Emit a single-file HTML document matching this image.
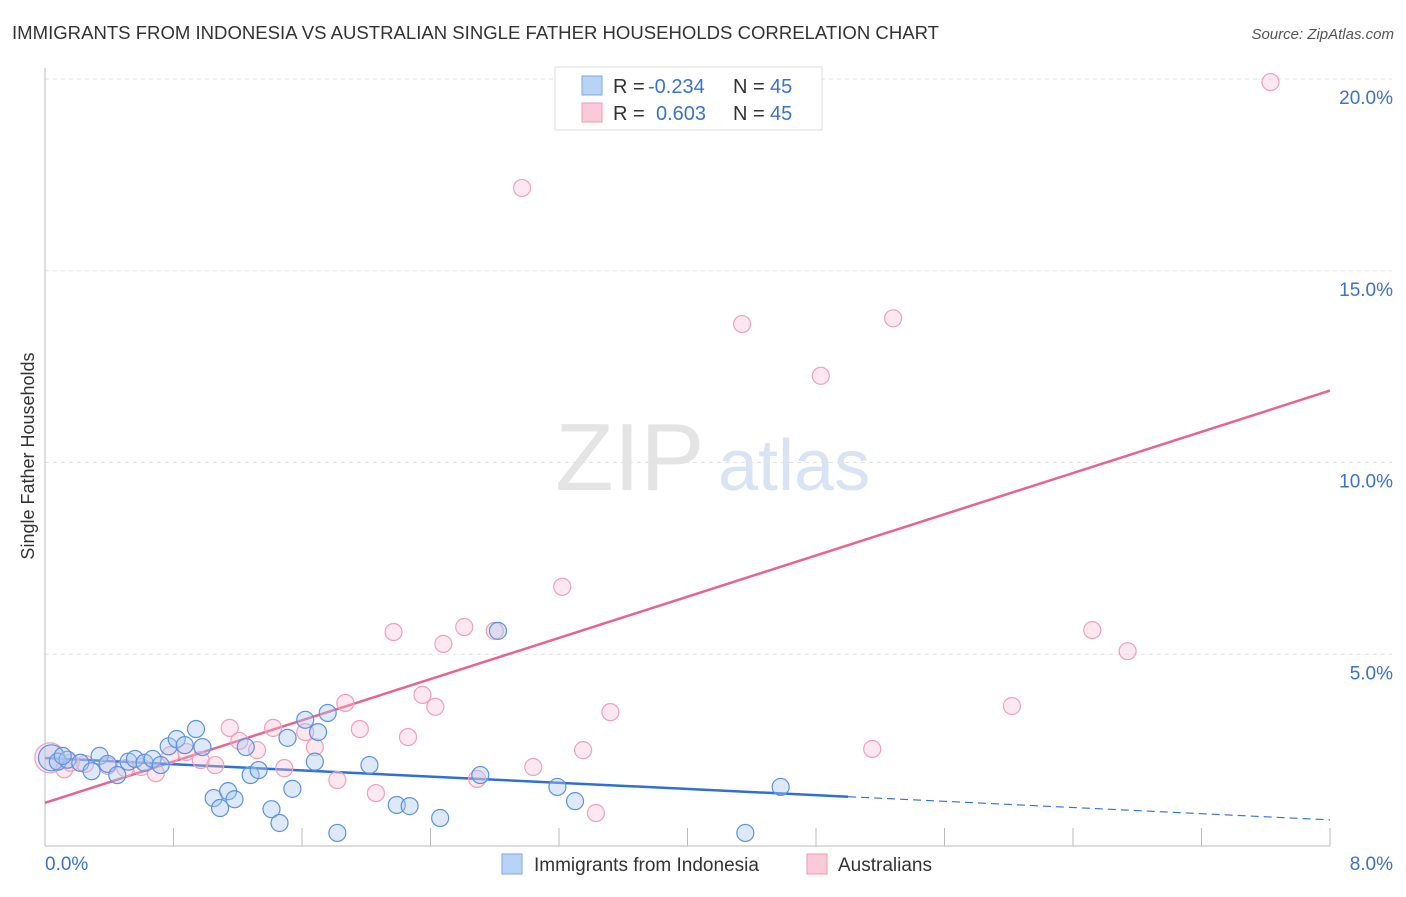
<!DOCTYPE html>
<html><head><meta charset="utf-8"><style>
body{margin:0;background:#fff;font-family:"Liberation Sans",sans-serif}
svg text{font-family:"Liberation Sans",sans-serif}
</style></head><body>
<svg id="chart" width="1406" height="892" xmlns="http://www.w3.org/2000/svg">
<text x="12" y="39" font-size="18" fill="#333" textLength="927" lengthAdjust="spacingAndGlyphs">IMMIGRANTS FROM INDONESIA VS AUSTRALIAN SINGLE FATHER HOUSEHOLDS CORRELATION CHART</text>
<text x="1394" y="39" font-size="15" fill="#555" text-anchor="end" font-style="italic">Source: ZipAtlas.com</text>
<text x="34" y="456" font-size="18" fill="#333" text-anchor="middle" transform="rotate(-90 34 456)">Single Father Households</text>
<g><text x="555" y="490" font-size="96" fill="#e4e4e4" font-family="Liberation Serif">ZIP</text><text x="718" y="490" font-size="72" fill="#d8e4f4">atlas</text></g>
<g id="grid"></g><g id="axes"></g><g id="lines"></g><g id="pts"></g>
<g>
<rect x="555" y="67" width="267" height="63" fill="#fff" stroke="#ddd"/>
<rect x="582" y="76" width="20" height="19" fill="#b8d3f5" stroke="#7aa8e8"/>
<rect x="582" y="103" width="20" height="19" fill="#fbcad8" stroke="#f09ab4"/>
<text x="613" y="93" font-size="20" fill="#333">R =</text>
<text x="648" y="93" font-size="20" fill="#3a72d0">-0.234</text>
<text x="733" y="93" font-size="20" fill="#333">N =</text>
<text x="770" y="93" font-size="20" fill="#3a72d0">45</text>
<text x="613" y="120" font-size="20" fill="#333">R =</text>
<text x="656" y="120" font-size="20" fill="#3a72d0">0.603</text>
<text x="733" y="120" font-size="20" fill="#333">N =</text>
<text x="770" y="120" font-size="20" fill="#3a72d0">45</text>
</g>
<g>
<rect x="502" y="854" width="20" height="20" fill="#b8d3f5" stroke="#7aa8e8"/>
<text x="534" y="871" font-size="19" fill="#333">Immigrants from Indonesia</text>
<rect x="807" y="854" width="20" height="20" fill="#fbcad8" stroke="#f09ab4"/>
<text x="838" y="871" font-size="19" fill="#333">Australians</text>
</g>
</svg>
<script>
const blueX=[0.04,0.08,0.14,0.22,0.29,0.34,0.39,0.45,0.52,0.56,0.62,0.67,0.72,0.77,0.82,0.87,0.94,0.98,1.05,1.09,1.14,1.18,1.25,1.28,1.33,1.41,1.46,1.51,1.54,1.62,1.68,1.70,1.76,1.82,2.02,2.19,2.27,2.46,2.71,2.82,3.19,3.30,4.36,4.58,0.11];
const blueY=[2.3,2.2,2.25,2.17,1.95,2.35,2.14,1.85,2.2,2.27,2.17,2.27,2.11,2.6,2.79,2.63,3.05,2.58,1.25,0.99,1.43,1.22,2.58,1.85,1.98,0.96,0.6,2.82,1.49,3.29,2.2,2.97,3.47,0.34,2.11,1.07,1.04,0.73,1.85,5.61,1.54,1.17,0.34,1.54,2.35];
const pinkX=[0.03,0.12,0.16,0.25,0.39,0.50,0.60,0.69,0.78,0.88,0.97,1.06,1.15,1.21,1.32,1.42,1.49,1.62,1.68,1.82,1.87,1.96,2.06,2.17,2.26,2.35,2.43,2.48,2.61,2.69,2.80,2.97,3.04,3.22,3.35,3.43,3.52,4.34,4.83,5.15,5.28,6.02,6.52,6.74,7.63];
const pinkY=[2.3,2.0,2.17,2.14,2.09,2.03,2.06,1.9,2.37,2.45,2.24,2.11,3.08,2.74,2.5,3.08,2.03,2.97,2.58,1.72,3.73,3.05,1.38,5.58,2.84,3.94,3.63,5.27,5.71,1.75,5.61,17.16,2.06,6.76,2.5,0.86,3.49,13.61,12.26,2.53,13.76,3.65,5.63,5.08,19.92];
const xTicks=[0,8];const yTicks=[5,10,15,20];
const NS="http://www.w3.org/2000/svg";
const X0=45,X1=1330,Y0=846,PPY=38.35;
const xs=v=>X0+(v/8)*(X1-X0), ys=v=>Y0-v*PPY;
function mk(p,t,a){const e=document.createElementNS(NS,t);for(const k in a)e.setAttribute(k,a[k]);document.getElementById(p).appendChild(e);return e;}
yTicks.forEach(t=>{const l=mk('grid','line',{x1:X0,x2:1392,y1:ys(t),y2:ys(t),stroke:'#e2e2e2','stroke-dasharray':'4,4'});


const tx=mk('grid','text',{x:1393,y:ys(t)+25,'font-size':19,fill:'#3a72d0','text-anchor':'end'});tx.textContent=t.toFixed(1)+'%';

});
mk('axes','line',{x1:X0,x2:X0,y1:68,y2:Y0,stroke:'#bbb'});
mk('axes','line',{x1:X0,x2:X1,y1:Y0,y2:Y0,stroke:'#bbb'});
for(let i=1;i<=10;i++){const x=xs(i*0.8);mk('axes','line',{x1:x,x2:x,y1:Y0-18,y2:Y0,stroke:'#bbb'});}
xTicks.forEach((t,i)=>{const tx=mk('axes','text',{x:i?1393:45,y:870,'font-size':19,fill:'#3a72d0','text-anchor':i?'end':'start'});tx.textContent=t.toFixed(1)+'%';

});
function fit(X,Y){const n=X.length,mx=X.reduce((a,b)=>a+b)/n,my=Y.reduce((a,b)=>a+b)/n;let sxy=0,sxx=0;X.forEach((x,i)=>{sxy+=(x-mx)*(Y[i]-my);sxx+=(x-mx)**2});const b=sxy/sxx;return[my-b*mx,b];}
const [pa,pb]=fit(pinkX,pinkY);
const pl=mk('lines','line',{x1:xs(0),y1:ys(pa),x2:xs(8),y2:ys(pa+pb*8),stroke:'#e8648e','stroke-width':2.5});


const [ba,bb]=fit(blueX,blueY);const bmax=5.0;
const bl=mk('lines','line',{x1:xs(0),y1:ys(ba),x2:xs(bmax),y2:ys(ba+bb*bmax),stroke:'#2f6fd6','stroke-width':2.5});


const bd=mk('lines','line',{x1:xs(bmax),y1:ys(ba+bb*bmax),x2:xs(8),y2:ys(ba+bb*8),stroke:'#2f6fd6','stroke-width':1.2,'stroke-dasharray':'8,5'});


pinkX.forEach((x,i)=>{const c=mk('pts','circle',{cx:xs(x),cy:ys(pinkY[i]),r:i==0?15:8.5,fill:'rgba(248,190,208,0.35)',stroke:'#f0a0b8','stroke-width':1.2});

});
blueX.forEach((x,i)=>{const c=mk('pts','circle',{cx:xs(x),cy:ys(blueY[i]),r:i==0?13:8.5,fill:'rgba(170,200,240,0.4)',stroke:'#5b93e0','stroke-width':1.2});

});
</script>
</body></html>
